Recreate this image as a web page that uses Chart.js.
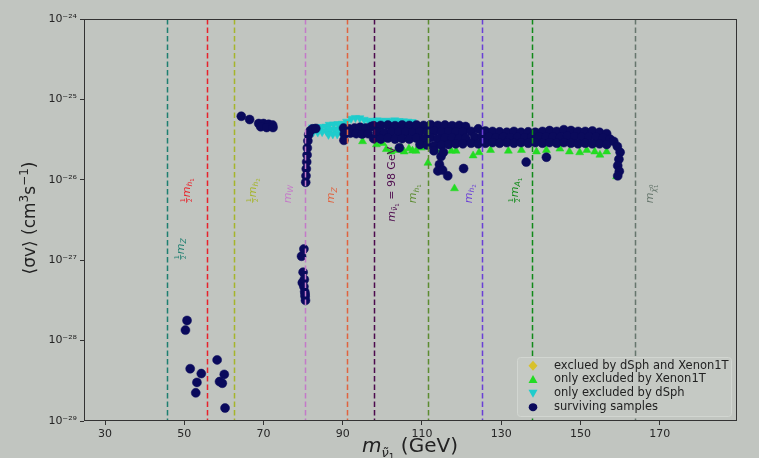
<!DOCTYPE html>
<html>
<head>
<meta charset="utf-8">
<script src="https://cdn.jsdelivr.net/npm/chart.js@4.4.1/dist/chart.umd.min.js"></script>
<style>
  html, body { margin: 0; padding: 0; background: #c1c5c0; }
  canvas { display: block; }
</style>
</head>
<body>
<canvas id="chart" width="759" height="458"></canvas>
<script>
// axis ticks
const xTicks = [30, 50, 70, 90, 110, 130, 150, 170];
const yTicks = [1e-29, 1e-28, 1e-27, 1e-26, 1e-25, 1e-24];
const yTickLabels = ['10⁻²⁹', '10⁻²⁸', '10⁻²⁷', '10⁻²⁶', '10⁻²⁵', '10⁻²⁴'];

const seriesNames = ['exclued by dSph and Xenon1T', 'only excluded by Xenon1T', 'only excluded by dSph', 'surviving samples'];

// reference masses (GeV) for the dashed lines
const lineMasses = [45.6, 55.8, 62.6, 80.4, 91.2, 98, 111.6, 125.2, 137.8, 163.8];

// samples: [m_sneutrino (GeV), <sigma v> (cm^3 s^-1)]
const bothExcluded = [];

const xenonOnly = [
  [95.0, 3.0e-26], [98.5, 2.75e-26], [100.1, 2.85e-26], [101.0, 2.4e-26], [102.2, 2.24e-26], [103.7, 2.34e-26],
  [104.8, 2.5e-26], [105.5, 2.24e-26], [106.7, 2.45e-26], [107.6, 2.3e-26], [108.5, 2.29e-26], [109.8, 2.5e-26],
  [111.5, 1.62e-26], [114.8, 2.34e-26], [117.4, 2.29e-26], [118.6, 2.29e-26], [118.2, 7.8e-27], [122.9, 2.0e-26],
  [124.4, 2.19e-26], [127.3, 2.34e-26], [131.8, 2.29e-26], [135.1, 2.34e-26], [138.9, 2.24e-26],
  [141.4, 2.34e-26], [144.8, 2.43e-26], [147.2, 2.24e-26], [149.8, 2.19e-26], [151.6, 2.34e-26],
  [153.6, 2.24e-26], [154.9, 2.04e-26], [156.6, 2.24e-26], [159.1, 1.10e-26]
];

const dsphOnly = [
  [82.4, 4.5e-26], [83.5, 4.55e-26], [84.6, 4.5e-26], [85.7, 4.6e-26], [82.6, 3.95e-26], [83.7, 3.9e-26],
  [84.8, 3.95e-26], [85.9, 4.0e-26], [86.6, 4.85e-26], [87.7, 4.9e-26], [88.8, 4.95e-26], [89.9, 5.0e-26],
  [86.9, 4.2e-26], [88.0, 4.2e-26], [89.1, 4.25e-26], [90.2, 4.3e-26], [86.4, 3.65e-26], [87.5, 3.7e-26],
  [88.6, 3.7e-26], [89.7, 3.75e-26], [91.0, 5.3e-26], [92.1, 5.75e-26], [93.2, 5.9e-26], [94.3, 5.85e-26],
  [95.4, 5.6e-26], [96.5, 5.4e-26], [97.6, 5.45e-26], [98.7, 5.5e-26], [99.8, 5.4e-26], [100.9, 5.45e-26],
  [102.0, 5.35e-26], [103.1, 5.5e-26], [104.2, 5.4e-26], [105.3, 5.35e-26], [106.4, 5.3e-26], [107.5, 5.25e-26]
];

const survivingLow = [
  [50.7, 1.78e-28], [50.3, 1.35e-28], [51.5, 4.47e-29], [54.3, 3.89e-29], [53.2, 3.02e-29], [52.9, 2.24e-29],
  [58.3, 5.75e-29], [60.1, 3.8e-29], [58.9, 3.09e-29], [59.6, 2.95e-29], [60.3, 1.45e-29]
];

const survivingWPole = [
  [80.2, 1.38e-27], [79.6, 1.12e-27], [80.0, 7.1e-28], [79.8, 5.25e-28], [80.3, 5.75e-28], [80.2, 4.7e-28],
  [80.4, 4.07e-28], [80.5, 3.8e-28], [80.5, 3.55e-28], [80.6, 3.16e-28],
  [80.65, 9.3e-27], [80.73, 1.12e-26], [80.8, 1.37e-26], [80.9, 1.67e-26], [81.0, 2.04e-26], [81.06, 2.49e-26],
  [81.2, 3.05e-26], [81.4, 3.63e-26], [81.8, 4.07e-26], [82.4, 4.3e-26], [83.2, 4.35e-26]
];

const survivingLeft = [
  [64.4, 6.17e-26], [66.5, 5.62e-26], [68.8, 5.01e-26], [70.0, 5.01e-26], [71.3, 4.9e-26], [72.3, 4.79e-26],
  [69.3, 4.57e-26], [70.8, 4.47e-26], [72.4, 4.47e-26]
];

const survivingBand = [
  [90.2, 4.4e-26], [91.6, 4.3e-26], [93.0, 4.4e-26], [94.4, 4.5e-26], [95.8, 4.4e-26], [97.2, 4.6e-26],
  [90.4, 3.7e-26], [91.9, 3.8e-26], [93.4, 3.75e-26], [94.9, 3.7e-26], [96.4, 3.75e-26], [90.3, 3.1e-26],
  [97.8, 4.7e-26], [99.6, 4.75e-26], [101.4, 4.8e-26], [103.2, 4.7e-26], [105.0, 4.8e-26], [106.8, 4.75e-26],
  [98.7, 3.9e-26], [100.5, 3.85e-26], [102.3, 3.95e-26], [104.1, 3.9e-26], [105.9, 3.95e-26], [107.7, 3.9e-26],
  [97.8, 3.25e-26], [99.6, 3.2e-26], [101.4, 3.3e-26], [103.2, 3.2e-26], [105.0, 3.25e-26], [106.8, 3.2e-26],
  [108.6, 4.8e-26], [110.4, 4.75e-26], [112.2, 4.85e-26], [114.0, 4.75e-26], [115.8, 4.8e-26], [117.6, 4.7e-26],
  [119.4, 4.75e-26], [121.0, 4.6e-26],
  [109.5, 4.0e-26], [111.3, 3.95e-26], [113.1, 4.05e-26], [114.9, 3.95e-26], [116.7, 4.0e-26], [118.5, 3.95e-26], [120.3, 3.9e-26],
  [108.6, 3.3e-26], [110.4, 3.25e-26], [112.2, 3.35e-26], [114.0, 3.25e-26], [115.8, 3.3e-26], [117.6, 3.3e-26],
  [119.4, 3.25e-26], [121.0, 3.3e-26],
  [109.5, 2.75e-26], [111.3, 2.7e-26], [113.1, 2.65e-26], [114.9, 2.7e-26], [116.7, 2.75e-26], [118.5, 2.8e-26], [120.3, 2.8e-26],
  [122.4, 4.0e-26], [124.2, 4.3e-26], [126.0, 4.05e-26], [127.8, 4.0e-26], [129.6, 3.95e-26], [131.4, 3.9e-26],
  [133.2, 4.0e-26], [135.0, 3.9e-26], [136.8, 3.95e-26], [138.6, 3.9e-26], [140.4, 4.0e-26], [142.2, 4.1e-26],
  [144.0, 4.0e-26], [145.8, 4.2e-26], [147.6, 4.1e-26], [149.4, 4.0e-26], [151.2, 4.0e-26], [153.0, 4.05e-26],
  [154.8, 3.9e-26], [156.6, 3.75e-26],
  [123.3, 3.4e-26], [125.1, 3.45e-26], [126.9, 3.4e-26], [128.7, 3.35e-26], [130.5, 3.4e-26], [132.3, 3.35e-26],
  [134.1, 3.4e-26], [135.9, 3.35e-26], [137.7, 3.4e-26], [139.5, 3.45e-26], [141.3, 3.4e-26], [143.1, 3.45e-26],
  [144.9, 3.4e-26], [146.7, 3.5e-26], [148.5, 3.45e-26], [150.3, 3.4e-26], [152.1, 3.45e-26], [153.9, 3.4e-26],
  [155.7, 3.3e-26], [157.5, 3.2e-26],
  [122.4, 2.85e-26], [124.2, 2.8e-26], [126.0, 2.85e-26], [127.8, 2.9e-26], [129.6, 2.85e-26], [131.4, 2.9e-26],
  [133.2, 2.85e-26], [135.0, 2.9e-26], [136.8, 2.85e-26], [138.6, 2.9e-26], [140.4, 2.85e-26], [142.2, 2.9e-26],
  [144.0, 2.85e-26], [145.8, 2.9e-26], [147.6, 2.85e-26], [149.4, 2.8e-26], [151.2, 2.85e-26], [153.0, 2.8e-26],
  [154.8, 2.8e-26], [156.6, 2.75e-26],
  [158.4, 3.0e-26], [159.3, 2.6e-26], [160.0, 2.2e-26], [159.7, 1.8e-26], [159.4, 1.5e-26], [159.8, 1.28e-26], [159.4, 1.12e-26]
];

const survivingOutliers = [
  [114.4, 1.55e-26], [114.0, 1.29e-26], [115.2, 1.32e-26], [116.5, 1.12e-26], [120.5, 1.38e-26],
  [136.3, 1.66e-26], [141.4, 1.91e-26], [114.8, 1.95e-26], [104.3, 2.5e-26], [113.0, 2.3e-26], [115.4, 2.2e-26]
];

const surviving = [...survivingLow, ...survivingWPole, ...survivingLeft, ...survivingBand, ...survivingOutliers];

// ---------- styling ----------
const FONT = '"DejaVu Sans", sans-serif';
const BG = '#c1c5c0';
const NAVY = '#0a0a5c';
const GREEN = '#22dc22';
const CYAN = '#1fcccc';
const YELLOW = '#d8c12c';
const lineColors = ['#1e7f70', '#e8222a', '#a5b52a', '#c47ac8', '#e0633f', '#4d0a4d', '#5c8c30', '#6a3fd6', '#108a18', '#66766c'];

const toXY = pts => pts.map(p => ({ x: p[0], y: p[1] }));

// rich text (sub/superscripts, fractions) drawn on canvas
function segWidth(ctx, s) {
  if (s.frac) {
    ctx.font = s.size + 'px ' + FONT;
    return Math.max(ctx.measureText(s.frac[0]).width, ctx.measureText(s.frac[1]).width) + 2;
  }
  if (s.stack) {
    ctx.font = s.size + 'px ' + FONT;
    return Math.max(ctx.measureText(s.stack[0]).width, ctx.measureText(s.stack[1]).width);
  }
  ctx.font = (s.it ? 'italic ' : '') + s.size + 'px ' + FONT;
  return ctx.measureText(s.t).width;
}
function drawRich(ctx, segs, x, y, color, rotated, center) {
  ctx.save();
  ctx.translate(x, y);
  if (rotated) ctx.rotate(-Math.PI / 2);
  ctx.fillStyle = color;
  ctx.textBaseline = 'alphabetic';
  ctx.textAlign = 'left';
  let total = 0;
  segs.forEach(s => { total += segWidth(ctx, s); });
  let cx = center ? -total / 2 : 0;
  for (const s of segs) {
    const w = segWidth(ctx, s);
    if (s.frac) {
      ctx.font = s.size + 'px ' + FONT;
      ctx.textAlign = 'center';
      ctx.fillText(s.frac[0], cx + w / 2, s.bar - 1.2);
      ctx.fillText(s.frac[1], cx + w / 2, s.bar + s.size * 0.75 + 1);
      ctx.fillRect(cx + 0.5, s.bar - 0.4, w - 1, 0.8);
      ctx.textAlign = 'left';
    } else if (s.stack) {
      ctx.font = s.size + 'px ' + FONT;
      ctx.fillText(s.stack[0], cx, s.dy[0]);
      ctx.fillText(s.stack[1], cx, s.dy[1]);
    } else {
      ctx.font = (s.it ? 'italic ' : '') + s.size + 'px ' + FONT;
      ctx.fillText(s.t, cx, s.dy || 0);
    }
    cx += w;
  }
  ctx.restore();
}

const LM = 11, LS = 7.7, LSS = 5.5;
const half = { frac: ['1', '2'], size: 6.3, bar: -3.3 };
const mSub = (sub, subsub) => {
  const a = [{ t: 'm', it: true, size: LM }, { t: sub, it: true, size: LS, dy: 2.5 }];
  if (subsub) a.push({ t: subsub, size: LSS, dy: 4.3 });
  return a;
};
const lineLabels = [
  { segs: [half, ...mSub('Z')], x: 49.0, y: 1.0e-27 },
  { segs: [half, ...mSub('h', '1')], x: 50.5, y: 5.1e-27 },
  { segs: [half, ...mSub('h', '2')], x: 67.2, y: 5.1e-27 },
  { segs: mSub('W'), x: 76.0, y: 5.1e-27 },
  { segs: mSub('Z'), x: 87.0, y: 5.1e-27 },
  { segs: [...mSub('ν̃', '1'), { t: ' = 98 GeV', size: LM }], x: 102.2, y: 3.0e-27 },
  { segs: mSub('h', '1'), x: 107.7, y: 5.1e-27 },
  { segs: mSub('h', '2'), x: 121.7, y: 5.1e-27 },
  { segs: [half, ...mSub('A', '1')], x: 133.3, y: 5.1e-27 },
  { segs: [{ t: 'm', it: true, size: LM }, { t: 'χ̃', it: true, size: LS, dy: 2.5 }, { stack: ['0', '1'], size: LSS, dy: [-0.5, 5] }], x: 167.5, y: 5.1e-27 }
];

const decorPlugin = {
  id: 'decor',
  beforeDraw(chart) {
    const ctx = chart.ctx;
    ctx.save();
    ctx.fillStyle = BG;
    ctx.fillRect(0, 0, chart.width, chart.height);
    ctx.restore();
  },
  afterDatasetsDraw(chart) {
    const { ctx, chartArea: a, scales: { x, y } } = chart;
    ctx.save();
    ctx.beginPath();
    ctx.rect(a.left, a.top, a.right - a.left, a.bottom - a.top);
    ctx.clip();
    ctx.lineWidth = 1.5;
    ctx.setLineDash([5.5, 3]);
    lineMasses.forEach((m, i) => {
      const px = Math.round(x.getPixelForValue(m)) + 0.5;
      ctx.strokeStyle = lineColors[i];
      ctx.beginPath();
      ctx.moveTo(px, a.top);
      ctx.lineTo(px, a.bottom);
      ctx.stroke();
    });
    ctx.setLineDash([]);
    lineLabels.forEach((l, i) => {
      drawRich(ctx, l.segs, x.getPixelForValue(l.x) + 3.5, y.getPixelForValue(l.y), lineColors[i], true, false);
    });
    ctx.restore();
  },
  afterDraw(chart) {
    const { ctx, chartArea: a } = chart;
    ctx.save();
    // frame
    ctx.strokeStyle = '#333333';
    ctx.lineWidth = 1;
    ctx.strokeRect(a.left + 0.5, a.top + 0.5, a.right - a.left - 1, a.bottom - a.top - 1);
    // axis titles
    drawRich(ctx, [
      { t: '⟨σv⟩ (cm', size: 17 }, { t: '3', size: 12, dy: -7 }, { t: 's', size: 17 },
      { t: '−1', size: 12, dy: -7 }, { t: ')', size: 17 }
    ], 35, 218, '#222222', true, true);
    drawRich(ctx, [
      { t: 'm', it: true, size: 20 }, { t: 'ν̃', it: true, size: 13, dy: 5 }, { t: '1', size: 9, dy: 8 },
      { t: ' (GeV)', size: 20 }
    ], 410, 452, '#222222', false, true);
    // legend
    const lx = 517, ly = 357, lw = 214, lh = 59;
    ctx.beginPath();
    ctx.roundRect(lx + 0.5, ly + 0.5, lw, lh, 3);
    ctx.fillStyle = '#c5c9c4';
    ctx.fill();
    ctx.strokeStyle = '#d2d6d1';
    ctx.lineWidth = 1;
    ctx.stroke();
    const rows = [365.7, 379.5, 393.3, 407.2];
    const mx = 533;
    ctx.font = '11.5px ' + FONT;
    ctx.textBaseline = 'middle';
    ctx.fillStyle = '#222222';
    seriesNames.forEach((n, i) => ctx.fillText(n, 554, rows[i]));
    // markers
    ctx.fillStyle = YELLOW;
    ctx.beginPath();
    ctx.moveTo(mx, rows[0] - 5); ctx.lineTo(mx + 4.5, rows[0]); ctx.lineTo(mx, rows[0] + 5); ctx.lineTo(mx - 4.5, rows[0]);
    ctx.closePath(); ctx.fill();
    ctx.fillStyle = GREEN;
    ctx.beginPath();
    ctx.moveTo(mx, rows[1] - 4.5); ctx.lineTo(mx + 4.5, rows[1] + 3.5); ctx.lineTo(mx - 4.5, rows[1] + 3.5);
    ctx.closePath(); ctx.fill();
    ctx.fillStyle = CYAN;
    ctx.beginPath();
    ctx.moveTo(mx, rows[2] + 4.5); ctx.lineTo(mx + 4.5, rows[2] - 3.5); ctx.lineTo(mx - 4.5, rows[2] - 3.5);
    ctx.closePath(); ctx.fill();
    ctx.fillStyle = NAVY;
    ctx.beginPath();
    ctx.ellipse(mx, rows[3], 4.3, 4, 0, 0, Math.PI * 2);
    ctx.fill();
    ctx.restore();
  }
};

const tickFont = { family: '"DejaVu Sans", sans-serif', size: 11 };

new Chart(document.getElementById('chart').getContext('2d'), {
  type: 'scatter',
  data: {
    datasets: [
      {
        label: seriesNames[3], data: toXY(surviving), order: 0,
        backgroundColor: NAVY, borderColor: NAVY, borderWidth: 0.5, pointRadius: 4.5, pointStyle: 'circle'
      },
      {
        label: seriesNames[2], data: toXY(dsphOnly), order: 1,
        backgroundColor: CYAN, borderColor: CYAN, borderWidth: 0.5, pointRadius: 4.8, pointStyle: 'triangle', rotation: 180
      },
      {
        label: seriesNames[1], data: toXY(xenonOnly), order: 2,
        backgroundColor: GREEN, borderColor: GREEN, borderWidth: 0.5, pointRadius: 4.6, pointStyle: 'triangle'
      },
      {
        label: seriesNames[0], data: toXY(bothExcluded), order: 3,
        backgroundColor: YELLOW, borderColor: YELLOW, pointRadius: 5, pointStyle: 'rectRot'
      }
    ]
  },
  options: {
    responsive: false,
    animation: false,
    events: [],
    layout: { padding: { left: 0, right: 22, top: 19, bottom: 0 } },
    plugins: { legend: { display: false }, tooltip: { enabled: false } },
    scales: {
      x: {
        type: 'linear',
        min: 24.7,
        max: 189.5,
        afterBuildTicks: s => { s.ticks = xTicks.map(v => ({ value: v })); },
        afterFit: s => { s.height = 37; },
        border: { display: false },
        grid: { display: true, drawOnChartArea: false, drawTicks: true, tickLength: 4, color: '#333333' },
        ticks: { font: tickFont, color: '#262626', padding: 3, maxRotation: 0, callback: v => String(v) }
      },
      y: {
        type: 'logarithmic',
        min: 1e-29,
        max: 1e-24,
        afterBuildTicks: s => { s.ticks = yTicks.map(v => ({ value: v })); },
        afterFit: s => { s.width = 84; },
        border: { display: false },
        grid: { display: true, drawOnChartArea: false, drawTicks: true, tickLength: 4, color: '#333333' },
        ticks: {
          font: tickFont, color: '#262626', padding: 3,
          callback: v => { const i = yTicks.indexOf(v); return i >= 0 ? yTickLabels[i] : ''; }
        }
      }
    }
  },
  plugins: [decorPlugin]
});
</script>
</body>
</html>
